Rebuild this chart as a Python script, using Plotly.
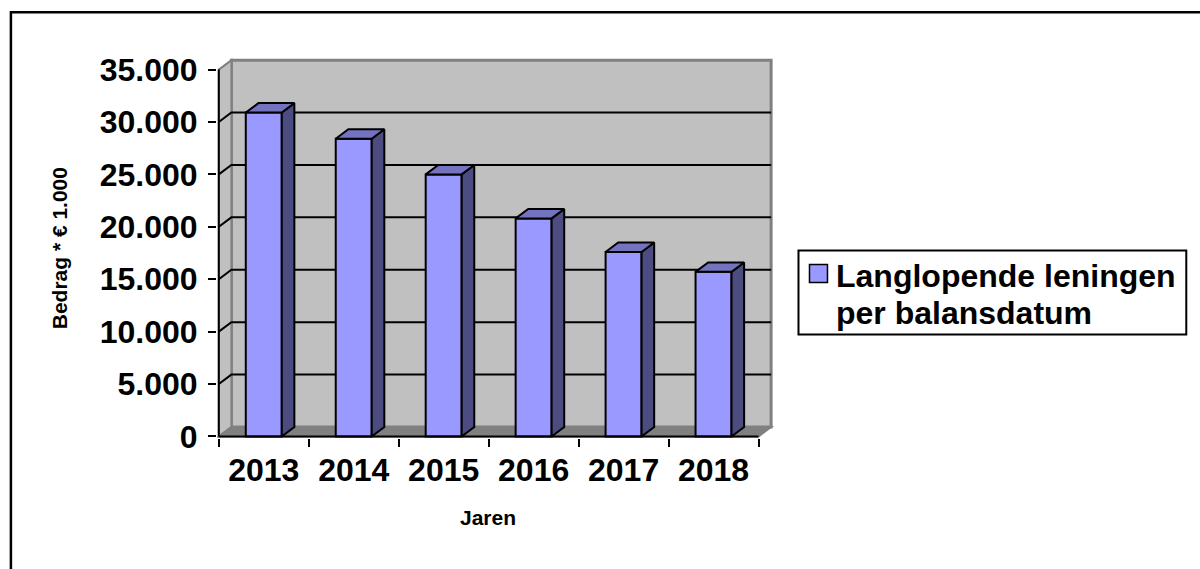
import plotly.graph_objects as go

# ---- data -------------------------------------------------------------
years = ["2013", "2014", "2015", "2016", "2017", "2018"]
loans = [30900, 28400, 25000, 20800, 17600, 15700]   # bedrag * EUR 1.000
y_tick_values = [0, 5000, 10000, 15000, 20000, 25000, 30000, 35000]
series_lines = ["Langlopende leningen", "per balansdatum"]
x_title = "Jaren"
y_title = "Bedrag * € 1.000"

# ---- geometry of the pseudo-3D box -----------------------------------
FIG_W, FIG_H = 1200, 569
PX_PER_CAT = 90.0            # pixels per category
PX_PER_VAL = 10.48 / 1000.0  # pixels per value unit
FRONT_LEFT_PX = (219.0, 436.0)   # pixel position of (x=-0.5, y=0)
X_RANGE = [-0.52, 5.75]
Y_RANGE = [-150, 36200]
Y_MAX = 35000
DX = 0.14    # depth offset in category units
DY = 900     # depth offset in value units
BAR_W = 0.4

plot_w = (X_RANGE[1] - X_RANGE[0]) * PX_PER_CAT
plot_h = (Y_RANGE[1] - Y_RANGE[0]) * PX_PER_VAL
m_l = FRONT_LEFT_PX[0] - (-0.5 - X_RANGE[0]) * PX_PER_CAT
m_r = FIG_W - m_l - plot_w
bottom_px = FRONT_LEFT_PX[1] + (0 - Y_RANGE[0]) * PX_PER_VAL
m_b = FIG_H - bottom_px
m_t = FIG_H - m_b - plot_h


def px_x(px):
    return (px - m_l) / plot_w


def px_y(py):
    return (bottom_px - py) / plot_h


FONT = "Liberation Sans, Arial, sans-serif"
FRONT = "#9999FF"
SIDE = "#4C4C80"
TOP = "#7373BF"
WALL = "#C0C0C0"
FLOOR = "#808080"
EDGE = "#808080"

xs = list(range(len(years)))
x_left, x_right = -0.5, len(years) - 0.5

fig = go.Figure()

# front faces of the columns
fig.add_trace(go.Bar(
    x=xs, y=loans, width=BAR_W, base=0,
    marker=dict(color=FRONT, line=dict(color="black", width=2)),
    showlegend=False, hoverinfo="skip",
))

# side and top faces
for xi, v in zip(xs, loans):
    r = xi + BAR_W / 2
    l = xi - BAR_W / 2
    fig.add_trace(go.Scatter(
        x=[r, r + DX, r + DX, r, r], y=[0, DY, v + DY, v, 0],
        mode="lines", fill="toself", fillcolor=SIDE,
        line=dict(color="black", width=2), showlegend=False, hoverinfo="skip",
    ))
    fig.add_trace(go.Scatter(
        x=[l, r, r + DX, l + DX, l], y=[v, v, v + DY, v + DY, v],
        mode="lines", fill="toself", fillcolor=TOP,
        line=dict(color="black", width=2), showlegend=False, hoverinfo="skip",
    ))

shapes = []
# back wall
shapes.append(dict(type="rect", xref="x", yref="y", layer="below",
                   x0=x_left + DX, x1=x_right + DX, y0=DY, y1=Y_MAX + DY,
                   fillcolor=WALL, line=dict(color=EDGE, width=3)))
# side wall
shapes.append(dict(type="path", xref="x", yref="y", layer="below",
                   path=f"M{x_left},0 L{x_left + DX},{DY} L{x_left + DX},{Y_MAX + DY} "
                        f"L{x_left},{Y_MAX} Z",
                   fillcolor=WALL, line=dict(color=EDGE, width=2)))
# floor
shapes.append(dict(type="path", xref="x", yref="y", layer="below",
                   path=f"M{x_left},0 L{x_right},0 L{x_right + DX},{DY} L{x_left + DX},{DY} Z",
                   fillcolor=FLOOR, line=dict(color=EDGE, width=2)))
# gridlines running over the side wall and back wall (top edge is the wall border)
for t in y_tick_values[1:-1]:
    shapes.append(dict(type="path", xref="x", yref="y", layer="below",
                       path=f"M{x_left},{t} L{x_left + DX},{t + DY} L{x_right + DX},{t + DY}",
                       line=dict(color="black", width=2)))
# front axis lines
shapes.append(dict(type="line", xref="x", yref="y", layer="above",
                   x0=x_left, x1=x_left, y0=0, y1=Y_MAX, line=dict(color="black", width=2)))
shapes.append(dict(type="line", xref="x", yref="y", layer="above",
                   x0=x_left, x1=x_right, y0=0, y1=0, line=dict(color="black", width=2)))

# outer chart frame (left and top edges visible)
shapes.append(dict(type="rect", xref="paper", yref="paper",
                   x0=px_x(11), x1=px_x(1215), y0=px_y(590), y1=px_y(12),
                   line=dict(color="black", width=2.5), fillcolor="rgba(0,0,0,0)"))

# legend box
shapes.append(dict(type="rect", xref="paper", yref="paper",
                   x0=px_x(799), x1=px_x(1187), y0=px_y(334), y1=px_y(250),
                   line=dict(color="black", width=2), fillcolor="white"))
shapes.append(dict(type="rect", xref="paper", yref="paper",
                   x0=px_x(810), x1=px_x(828), y0=px_y(282), y1=px_y(264),
                   line=dict(color="black", width=1.5), fillcolor=FRONT))

annotations = [
    dict(text=x_title, xref="paper", yref="paper", x=px_x(488), y=px_y(517),
         xanchor="center", yanchor="middle", showarrow=False,
         font=dict(family=FONT, size=21, color="black", weight="bold")),
    dict(text=y_title, xref="paper", yref="paper", x=px_x(60), y=px_y(248),
         xanchor="center", yanchor="middle", showarrow=False, textangle=-90,
         font=dict(family=FONT, size=21, color="black", weight="bold")),
]
for i, line in enumerate(series_lines):
    annotations.append(dict(text=line, xref="paper", yref="paper",
                            x=px_x(835), y=px_y(276 + 36.5 * i),
                            xanchor="left", yanchor="middle", showarrow=False,
                            font=dict(family=FONT, size=32, color="black", weight="bold")))

tick_font = dict(family=FONT, size=32, color="black", weight="bold")

fig.update_layout(
    width=FIG_W, height=FIG_H,
    margin=dict(l=m_l, r=m_r, t=m_t, b=m_b, pad=0),
    paper_bgcolor="white", plot_bgcolor="white",
    separators=",.",
    shapes=shapes, annotations=annotations,
    showlegend=False,
    xaxis=dict(range=X_RANGE, showgrid=False, zeroline=False, showline=False,
               tickmode="array", tickvals=xs, ticktext=years, ticks="",
               tickfont=tick_font, ticklabelstandoff=10,
               minor=dict(tickmode="array", tickvals=[x - 0.5 for x in xs] + [x_right],
                          ticks="outside", ticklen=8, tickwidth=2, tickcolor="black",
                          showgrid=False)),
    yaxis=dict(range=Y_RANGE, showgrid=False, zeroline=False, showline=False,
               tickmode="array", tickvals=y_tick_values, tickformat=",d",
               ticks="outside", ticklen=8, tickwidth=2, tickcolor="black",
               tickfont=tick_font, ticklabelstandoff=4),
)

fig.write_html("out.html")
